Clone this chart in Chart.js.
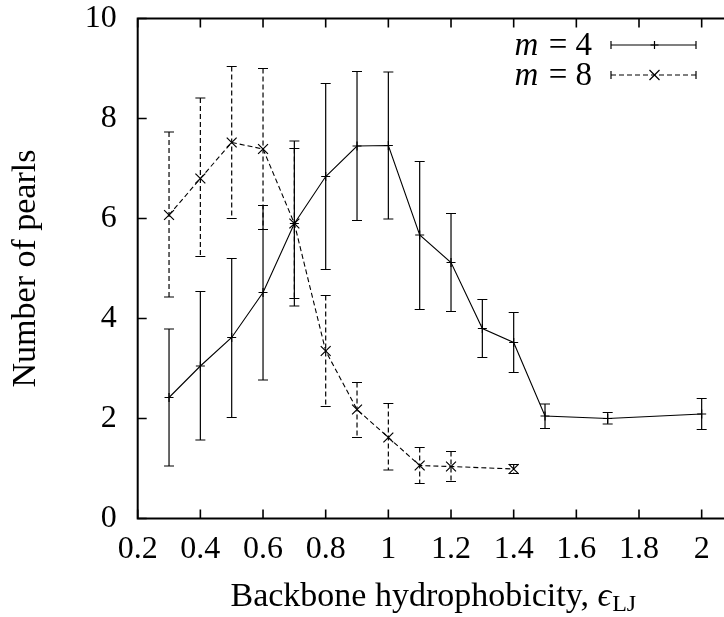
<!DOCTYPE html>
<html><head><meta charset="utf-8">
<script src="https://cdn.jsdelivr.net/npm/chart.js@4.4.1/dist/chart.umd.min.js"></script>
<style>
html,body{margin:0;padding:0;background:#fff;overflow:hidden;width:724px;height:617px}
#wrap{width:760px;height:617px;position:relative}
canvas{display:block}
</style></head>
<body><div id="wrap"><canvas id="c" width="760" height="617"></canvas></div>
<script>
// ---- data ----
const xM4  = [0.3, 0.4, 0.5, 0.6, 0.7, 0.8, 0.9, 1.0, 1.1, 1.2, 1.3, 1.4, 1.5, 1.7, 2.0];
const yM4  = [2.42,3.05,3.62,4.52,5.90,6.84,7.45,7.46,5.67,5.12,3.80,3.52,2.05,2.00,2.09];
const loM4 = [1.05,1.57,2.02,2.77,4.25,4.98,5.96,5.99,4.18,4.14,3.22,2.92,1.80,1.89,1.78];
const hiM4 = [3.79,4.54,5.20,6.26,7.55,8.70,8.94,8.93,7.14,6.10,4.38,4.12,2.29,2.12,2.40];

const xM8  = [0.3, 0.4, 0.5, 0.6, 0.7, 0.8, 0.9, 1.0, 1.1, 1.2, 1.4];
const yM8  = [6.07,6.80,7.52,7.39,5.90,3.35,2.18,1.62,1.06,1.04,0.99];
const loM8 = [4.43,5.24,6.00,5.78,4.40,2.24,1.62,0.97,0.70,0.74,0.90];
const hiM8 = [7.73,8.41,9.04,9.00,7.40,4.46,2.72,2.30,1.42,1.34,1.08];

const seriesM = ['4', '8'];
const xTicks = [0.2, 0.4, 0.6, 0.8, 1, 1.2, 1.4, 1.6, 1.8, 2];
const yTicks = [0, 2, 4, 6, 8, 10];
const xRange = [0.2, 2.1];
const yRange = [0, 10];
const xTitleMain = 'Backbone hydrophobicity, ';
const xTitleSym = '\u03F5';
const xTitleSub = 'LJ';
const yTitle = 'Number of pearls';

const FONT = "'Liberation Serif', 'DejaVu Serif', serif";
const FS = 32;
const FT = 34;

function pts(xs, ys) { return xs.map((x, i) => ({x: x, y: ys[i]})); }

const errorBars = {
  id: 'errorBars',
  beforeDatasetsDraw(chart) {
    const ctx = chart.ctx, xs = chart.scales.x, ys = chart.scales.y, a = chart.chartArea;
    ctx.save();
    ctx.beginPath(); ctx.rect(a.left, a.top, a.right - a.left, a.bottom - a.top); ctx.clip();
    chart.data.datasets.forEach(ds => {
      ctx.strokeStyle = '#000';
      ctx.lineWidth = 1.2;
      ds.data.forEach((p, i) => {
        const px = xs.getPixelForValue(p.x);
        const pl = ys.getPixelForValue(ds.errLo[i]);
        const ph = ys.getPixelForValue(ds.errHi[i]);
        ctx.setLineDash(ds.borderDash || []);
        ctx.beginPath(); ctx.moveTo(px, ph); ctx.lineTo(px, pl); ctx.stroke();
        ctx.setLineDash([]);
        ctx.beginPath();
        ctx.moveTo(px - 5, ph); ctx.lineTo(px + 5, ph);
        ctx.moveTo(px - 5, pl); ctx.lineTo(px + 5, pl);
        ctx.stroke();
      });
    });
    ctx.restore();
  }
};

const frameTicks = {
  id: 'frameTicks',
  afterDraw(chart) {
    const ctx = chart.ctx, xs = chart.scales.x, ys = chart.scales.y, a = chart.chartArea;
    ctx.save();
    ctx.strokeStyle = '#000';
    ctx.lineWidth = 1.6;
    const T = 9;
    ctx.beginPath();
    xs.ticks.forEach(t => {
      const px = xs.getPixelForValue(t.value);
      ctx.moveTo(px, a.bottom); ctx.lineTo(px, a.bottom - T);
      ctx.moveTo(px, a.top); ctx.lineTo(px, a.top + T);
    });
    ys.ticks.forEach(t => {
      const py = ys.getPixelForValue(t.value);
      ctx.moveTo(a.left, py); ctx.lineTo(a.left + T, py);
      ctx.moveTo(a.right, py); ctx.lineTo(a.right - T, py);
    });
    ctx.stroke();
    ctx.lineWidth = 2;
    ctx.strokeRect(a.left, a.top, a.right - a.left, a.bottom - a.top);

    // x-axis title with subscript
    ctx.fillStyle = '#000';
    ctx.textBaseline = 'alphabetic';
    ctx.font = FT + 'px ' + FONT;
    const w1 = ctx.measureText(xTitleMain).width;
    ctx.font = 'italic ' + FT + 'px ' + FONT;
    const w2 = ctx.measureText(xTitleSym).width;
    ctx.font = Math.round(FT * 0.7) + 'px ' + FONT;
    const w3 = ctx.measureText(xTitleSub).width;
    const total = w1 + w2 + w3 + 1;
    let x0 = (a.left + a.right) / 2 - total / 2 - 2;
    const by = 606;
    ctx.font = FT + 'px ' + FONT;
    ctx.fillText(xTitleMain, x0, by);
    ctx.font = 'italic ' + FT + 'px ' + FONT;
    ctx.fillText(xTitleSym, x0 + w1, by);
    ctx.font = Math.round(FT * 0.7) + 'px ' + FONT;
    ctx.fillText(xTitleSub, x0 + w1 + w2 + 1, by + 5);

    // legend
    chart.data.datasets.forEach((ds, i) => {
      const cy = 45 + i * 30;
      const rx = 592;
      ctx.font = '33px ' + FONT;
      const rest = ' = ' + ds.mval;
      const wr = ctx.measureText(rest).width;
      ctx.textBaseline = 'middle';
      ctx.fillText(rest, rx - wr, cy + 1);
      ctx.font = 'italic 33px ' + FONT;
      const wm = ctx.measureText('m').width;
      ctx.fillText('m', rx - wr - wm - 2, cy + 1);
      // sample
      const l = 611, r = 696;
      ctx.lineWidth = 1.2;
      ctx.setLineDash(ds.borderDash || []);
      ctx.beginPath(); ctx.moveTo(l, cy); ctx.lineTo(r, cy); ctx.stroke();
      ctx.setLineDash([]);
      ctx.beginPath();
      ctx.moveTo(l, cy - 4); ctx.lineTo(l, cy + 4);
      ctx.moveTo(r, cy - 4); ctx.lineTo(r, cy + 4);
      const m = (l + r) / 2 + 1;
      if (ds.pointStyle === 'cross') {
        ctx.moveTo(m - 4, cy); ctx.lineTo(m + 4, cy);
        ctx.moveTo(m, cy - 4); ctx.lineTo(m, cy + 4);
      } else {
        ctx.moveTo(m - 5, cy - 5); ctx.lineTo(m + 5, cy + 5);
        ctx.moveTo(m - 5, cy + 5); ctx.lineTo(m + 5, cy - 5);
      }
      ctx.stroke();
    });
    ctx.restore();
  }
};

new Chart(document.getElementById('c'), {
  type: 'scatter',
  data: {
    datasets: [
      { label: 'm = ' + seriesM[0], mval: seriesM[0], data: pts(xM4, yM4), errLo: loM4, errHi: hiM4,
        showLine: true, borderColor: '#000', borderWidth: 1.1, backgroundColor: '#000',
        pointStyle: 'cross', pointRadius: 4.5, pointBorderWidth: 1.2, pointBorderColor: '#000',
        pointHoverRadius: 4.5 },
      { label: 'm = ' + seriesM[1], mval: seriesM[1], data: pts(xM8, yM8), errLo: loM8, errHi: hiM8,
        showLine: true, borderColor: '#000', borderWidth: 1.1, borderDash: [5, 3], backgroundColor: '#000',
        pointStyle: 'crossRot', pointRadius: 7, pointBorderWidth: 1.2, pointBorderColor: '#000',
        pointHoverRadius: 7 }
    ]
  },
  options: {
    responsive: false,
    animation: false,
    devicePixelRatio: 1,
    layout: { padding: { top: 18.5, right: 27, left: 0, bottom: 0 } },
    plugins: { legend: { display: false }, tooltip: { enabled: false } },
    scales: {
      x: {
        type: 'linear', min: xRange[0], max: xRange[1],
        grid: { display: false, drawTicks: false },
        border: { display: false },
        afterBuildTicks: s => { s.ticks = xTicks.map(v => ({ value: v })); },
        afterFit: s => { s.height = 98.5; s.paddingLeft = 0; s.paddingRight = 0; },
        ticks: { color: '#000', padding: 12, maxRotation: 0, autoSkip: false,
          font: { family: FONT, size: FS },
          callback: v => String(Math.round(v * 10) / 10) }
      },
      y: {
        type: 'linear', min: yRange[0], max: yRange[1],
        grid: { display: false, drawTicks: false },
        border: { display: false },
        afterBuildTicks: s => { s.ticks = yTicks.map(v => ({ value: v })); },
        afterFit: s => { s.width = 137.7; s.paddingTop = 0; s.paddingBottom = 0; },
        title: { display: true, text: yTitle, color: '#000', font: { family: FONT, size: FT }, padding: { top: 6, bottom: 0 } },
        ticks: { color: '#000', padding: 21, autoSkip: false,
          font: { family: FONT, size: FS },
          callback: v => String(v) }
      }
    }
  },
  plugins: [errorBars, frameTicks]
});
</script>
</body></html>
